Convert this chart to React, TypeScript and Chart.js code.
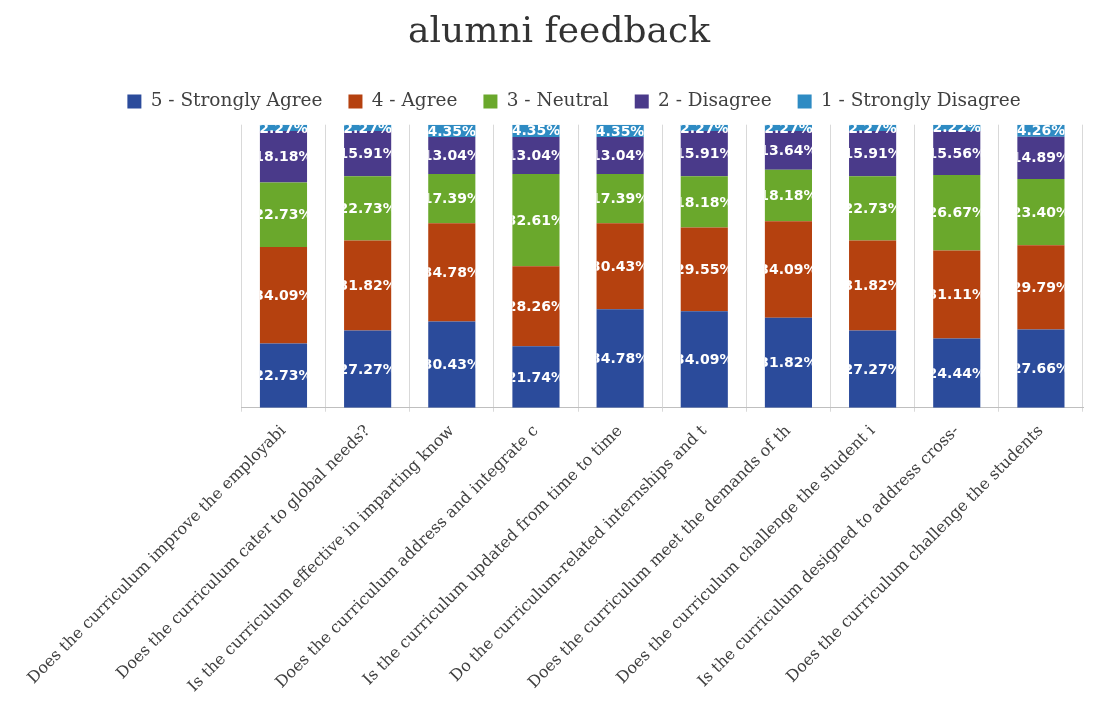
import React, { useEffect, useRef } from "react";
import { Chart, registerables } from "chart.js";

Chart.register(...registerables);

const categories = [
  "Does the curriculum improve the employabi",
  "Does the curriculum cater to global needs?",
  "Is the curriculum effective in imparting know",
  "Does the curriculum address and integrate c",
  "Is the curriculum updated from time to time",
  "Do the curriculum-related internships and t",
  "Does the curriculum meet the demands of th",
  "Does the curriculum challenge the student i",
  "Is the curriculum designed to address cross-",
  "Does the curriculum challenge the students",
];

const stronglyAgree = [22.73, 27.27, 30.43, 21.74, 34.78, 34.09, 31.82, 27.27, 24.44, 27.66];
const agree = [34.09, 31.82, 34.78, 28.26, 30.43, 29.55, 34.09, 31.82, 31.11, 29.79];
const neutral = [22.73, 22.73, 17.39, 32.61, 17.39, 18.18, 18.18, 22.73, 26.67, 23.4];
const disagree = [18.18, 15.91, 13.04, 13.04, 13.04, 15.91, 13.64, 15.91, 15.56, 14.89];
const stronglyDisagree = [2.27, 2.27, 4.35, 4.35, 4.35, 2.27, 2.27, 2.27, 2.22, 4.26];

const seriesNames = ["5 - Strongly Agree", "4 - Agree", "3 - Neutral", "2 - Disagree", "1 - Strongly Disagree"];
const seriesColors = ["#2b4b9b", "#b5410f", "#6aa82c", "#4a3a8a", "#2e8bc3"];

const labelPlugin = {
  id: "clippedLabels",
  beforeLayout(chart: any) {
    const l = chart.legend;
    if (l && !l._patched) {
      const orig = l.fit;
      l.fit = function () {
        orig.call(this);
        this.height += 4;
      };
      l._patched = true;
    }
  },
  afterLayout(chart: any) {
    const l = chart.legend;
    if (l) l.left += 30;
  },
  afterDatasetsDraw(chart: any) {
    const ctx = chart.ctx;
    const area = chart.chartArea;
    chart.data.datasets.forEach((ds: any, di: number) => {
      const meta = chart.getDatasetMeta(di);
      if (meta.hidden) return;
      meta.data.forEach((el: any, i: number) => {
        const p = el.getProps(["x", "y", "base", "width"], true);
        const v = ds.data[i];
        ctx.save();
        ctx.beginPath();
        ctx.rect(p.x - p.width / 2, area.top, p.width, area.bottom - area.top);
        ctx.clip();
        ctx.font = "bold 14px 'DejaVu Sans'";
        ctx.fillStyle = "#ffffff";
        ctx.textAlign = "center";
        ctx.textBaseline = "middle";
        ctx.fillText(v.toFixed(2) + "%", p.x, (p.y + p.base) / 2 + 1);
        ctx.restore();
      });
    });
  },
};

export default function App() {
  const ref = useRef<HTMLCanvasElement>(null);
  useEffect(() => {
    const values = [stronglyAgree, agree, neutral, disagree, stronglyDisagree];
    const chart = new Chart(ref.current!, {
      type: "bar",
      data: {
        labels: categories,
        datasets: values.map((d, i) => ({
          label: seriesNames[i],
          data: d,
          backgroundColor: seriesColors[i],
          borderWidth: 0,
          barPercentage: 0.56,
          categoryPercentage: 1,
        })),
      },
      options: {
        animation: false,
        responsive: true,
        maintainAspectRatio: false,
        layout: { padding: { left: 27, right: 11, top: 0, bottom: 0 } },
        plugins: {
          title: {
            display: true,
            text: "alumni feedback",
            color: "#333333",
            font: { family: "'DejaVu Serif'", size: 36, weight: "normal" },
            padding: { top: 3, bottom: 12 },
          },
          legend: {
            position: "top",
            labels: {
              color: "#404040",
              font: { family: "'DejaVu Serif'", size: 18.5 },
              boxWidth: 14,
              boxHeight: 14,
              padding: 26,
            },
          },
          tooltip: { enabled: false },
        },
        scales: {
          x: {
            stacked: true,
            grid: { offset: true, color: "#d9d9d9", drawTicks: true, tickLength: 4 },
            border: { color: "#bfbfbf" },
            afterFit: (s: any) => {
              s.paddingLeft += 12;
            },
            ticks: {
              autoSkip: false,
              maxRotation: 45,
              minRotation: 45,
              padding: 10,
              color: "#404040",
              font: { family: "'DejaVu Serif'", size: 16 },
            },
          },
          y: {
            stacked: true,
            min: 0,
            max: 100,
            display: false,
          },
        },
      },
      plugins: [labelPlugin],
    });
    return () => chart.destroy();
  }, []);
  return (
    <div style={{ position: "absolute", left: 8, top: 8, width: 1086, height: 698 }}>
      <canvas ref={ref} />
    </div>
  );
}
